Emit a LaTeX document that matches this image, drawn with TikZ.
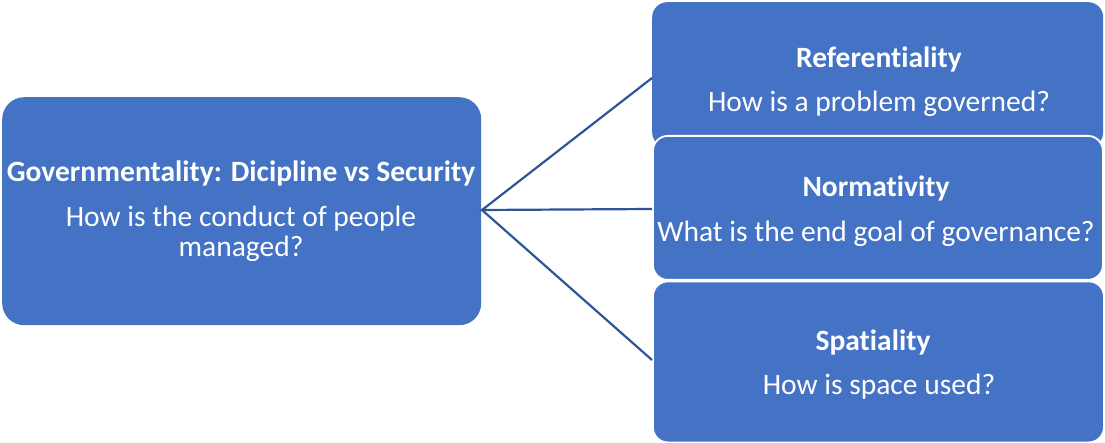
\documentclass[tikz,border=0pt]{standalone}
\usepackage{fontspec}
\setmainfont[Ligatures=CommonOff]{Carlito}
\definecolor{boxblue}{HTML}{4472C4}
\definecolor{lineblue}{HTML}{2F5597}
\begin{document}
\begin{tikzpicture}[x=1pt,y=-1pt,
  bluebox/.style={fill=boxblue, rounded corners=#1, inner sep=0pt, anchor=north west},
  bluebox/.default=15pt,
  ttl/.style={text=white, font=\fontsize{29.5}{30}\selectfont\bfseries, inner sep=0pt, anchor=base},
  sub/.style={text=white, font=\fontsize{29.5}{30}\selectfont, inner sep=0pt, anchor=base},
  conn/.style={draw=lineblue, line width=2.2pt}]
\useasboundingbox (0,0) rectangle (1105,443);
% left box
\node[bluebox=22pt, minimum width=479pt, minimum height=228pt] (left) at (2,97) {};
% right boxes
\node[bluebox, minimum width=451pt, minimum height=145pt] (ref) at (652,2) {};
\node[bluebox, draw=white, line width=1.8pt, minimum width=450pt, minimum height=144pt] (norm) at (652,135) {};
\node[bluebox, draw=white, line width=1.8pt, minimum width=451pt, minimum height=161pt] (spat) at (652,280.5) {};
% connectors
\coordinate (c1) at (652,78);
\coordinate (c2) at (652,209);
\coordinate (c3) at (652,360);
\coordinate (s) at (482,210);
\draw[conn] (c1) -- (s) -- (c2);
\draw[conn] (s) -- (c3);
% texts
\node[ttl] (t0) at (241,182) {Governmentality: Dicipline vs Security};
\node[sub] (t0a) at (241,227) {How is the conduct of people};
\node[sub] (t0b) at (241,257) {managed?};
\node[ttl] (t1) at (879,68) {Referentiality};
\node[sub] (t1a) at (879,112) {How is a problem governed?};
\node[ttl] (t2) at (876,197) {Normativity};
\node[sub] (t2a) at (876,242) {What is the end goal of governance?};
\node[ttl] (t3) at (873,350) {Spatiality};
\node[sub] (t3a) at (879,394) {How is space used?};
\end{tikzpicture}
\end{document}
